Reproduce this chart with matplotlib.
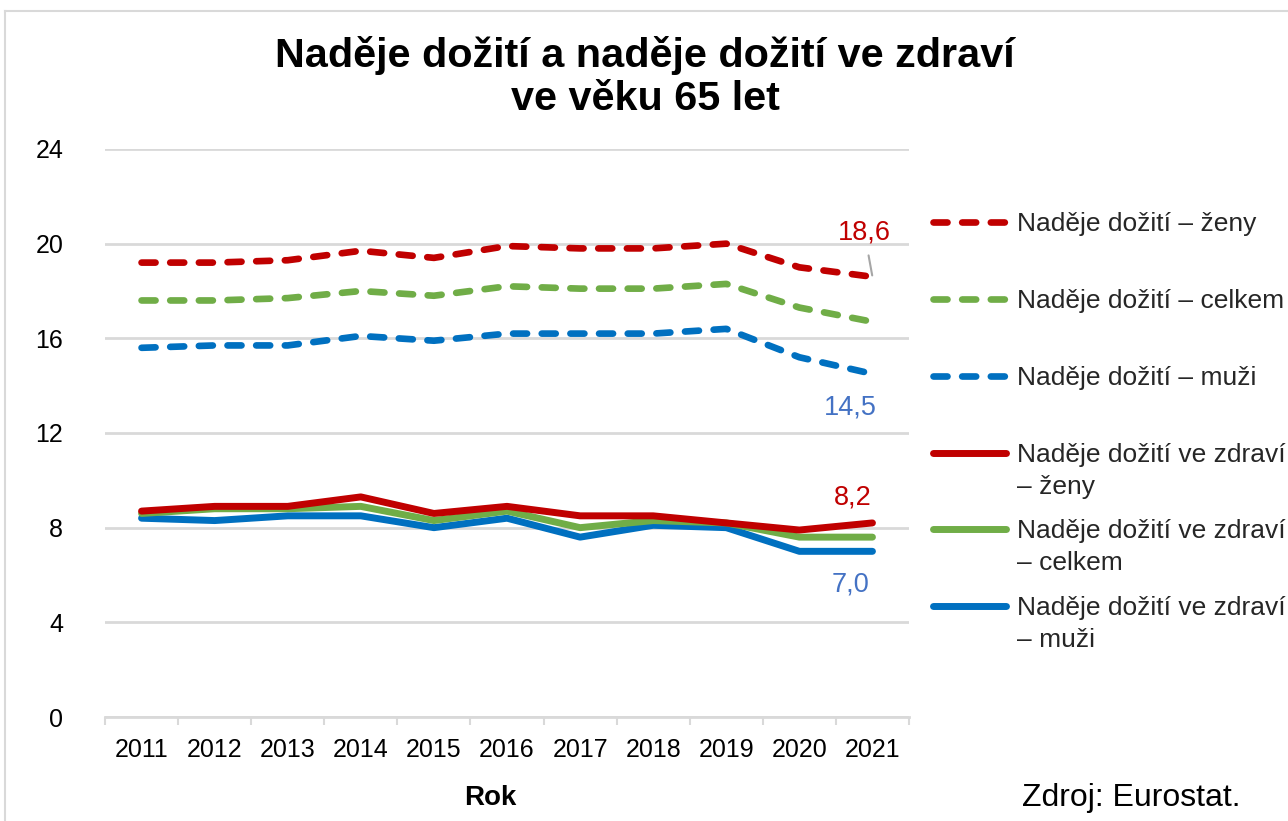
"""Life expectancy and healthy life expectancy at 65 (CZ)"""

import matplotlib

matplotlib.use("Agg")
import matplotlib.pyplot as plt
from matplotlib.lines import Line2D
from matplotlib.ticker import FixedLocator, MultipleLocator

plt.rcParams["font.family"] = ["Liberation Sans", "DejaVu Sans"]

W, H = 1288, 821

years = [2011, 2012, 2013, 2014, 2015, 2016, 2017, 2018, 2019, 2020, 2021]
le_women = [19.2, 19.2, 19.3, 19.7, 19.4, 19.9, 19.8, 19.8, 20.0, 19.0, 18.6]
le_total = [17.6, 17.6, 17.7, 18.0, 17.8, 18.2, 18.1, 18.1, 18.3, 17.3, 16.7]
le_men = [15.6, 15.7, 15.7, 16.1, 15.9, 16.2, 16.2, 16.2, 16.4, 15.2, 14.5]
hle_women = [8.7, 8.9, 8.9, 9.3, 8.6, 8.9, 8.5, 8.5, 8.2, 7.9, 8.2]
hle_total = [8.6, 8.8, 8.8, 8.9, 8.3, 8.7, 8.0, 8.3, 8.2, 7.6, 7.6]
hle_men = [8.4, 8.3, 8.5, 8.5, 8.0, 8.4, 7.6, 8.1, 8.0, 7.0, 7.0]

labels = [
    "Naděje dožití – ženy",
    "Naděje dožití – celkem",
    "Naděje dožití – muži",
    "Naděje dožití ve zdraví\n– ženy",
    "Naděje dožití ve zdraví\n– celkem",
    "Naděje dožití ve zdraví\n– muži",
]

RED, GREEN, BLUE = "#C00000", "#70AD47", "#0070C0"
LABEL_BLUE = "#4472C4"
GRID = "#D9D9D9"


def fig_xy(x, y):
    return x / W, 1 - y / H


fig = plt.figure(figsize=(W / 100, H / 100), dpi=100)
ax = fig.add_axes([105 / W, 1 - 717 / H, 804 / W, 568 / H])

x = list(range(len(years)))
series = [
    (le_women, RED, "dash"),
    (le_total, GREEN, "dash"),
    (le_men, BLUE, "dash"),
    (hle_women, RED, "solid"),
    (hle_total, GREEN, "solid"),
    (hle_men, BLUE, "solid"),
]

dash_kw = dict(linewidth=4.8, linestyle=(0, (2.1, 2.2)), dash_capstyle="round")
solid_kw = dict(linewidth=5.0, solid_capstyle="round", solid_joinstyle="round")

for vals, color, style in reversed(series):
    kw = dash_kw if style == "dash" else solid_kw
    ax.plot(x, vals, color=color, zorder=3, **kw)

ax.set_xlim(-0.5, len(years) - 0.5)
ax.set_ylim(0, 24)
ax.yaxis.set_major_locator(MultipleLocator(4))
ax.grid(axis="y", color=GRID, linewidth=2)
ax.set_axisbelow(True)
for side in ["top", "right", "left"]:
    ax.spines[side].set_visible(False)
ax.spines["bottom"].set_color(GRID)
ax.spines["bottom"].set_linewidth(2)

ax.set_xticks(x)
ax.set_xticklabels([str(y) for y in years])
ax.xaxis.set_minor_locator(FixedLocator([i - 0.5 for i in range(len(years) + 1)]))
ax.tick_params(axis="x", which="major", length=0, pad=15, labelsize=18)
ax.tick_params(axis="x", which="minor", length=6, width=1.5, color=GRID)
ax.tick_params(axis="y", length=0, pad=30, labelsize=18)

ax.set_xlabel("Rok", fontsize=20, fontweight="bold")
ax.xaxis.set_label_coords((490 - 105) / 804, (717 - 798) / 568)
ax.xaxis.label.set_va("center")

# value labels at the last year
last = len(years) - 1
ax.annotate(
    "18,6", (last, le_women[-1]), xytext=(-8, 44), textcoords="offset pixels",
    ha="center", va="center", fontsize=19.5, color=RED,
    arrowprops=dict(arrowstyle="-", color="#A6A6A6", lw=1.5, shrinkA=5, shrinkB=1),
)
ax.annotate(
    "14,5", (last, le_men[-1]), xytext=(-22, -34), textcoords="offset pixels",
    ha="center", va="center", fontsize=19.5, color=LABEL_BLUE,
)
ax.annotate(
    "8,2", (last, hle_women[-1]), xytext=(-20, 25), textcoords="offset pixels",
    ha="center", va="center", fontsize=19.5, color=RED,
)
ax.annotate(
    "7,0", (last, hle_men[-1]), xytext=(-22, -33), textcoords="offset pixels",
    ha="center", va="center", fontsize=19.5, color=LABEL_BLUE,
)

# legend drawn by hand so the handle sits on the first line of the label
handle_y = [222, 299, 376, 453, 529, 606]
line_gap = 32
for (vals, color, style), label, hy in zip(series, labels, handle_y):
    kw = dash_kw if style == "dash" else solid_kw
    (x0, y0), (x1, _) = fig_xy(933, hy), fig_xy(1006, hy)
    fig.add_artist(Line2D([x0, x1], [y0, y0], color=color, transform=fig.transFigure, **kw))
    for i, part in enumerate(label.split("\n")):
        tx, ty = fig_xy(1017, hy + 9 + i * line_gap)
        fig.text(tx, ty, part, ha="left", va="baseline", fontsize=19, color="#262626")

tx, ty = fig_xy(645, 36)
fig.text(
    tx, ty, "Naděje dožití a naděje dožití ve zdraví\nve věku 65 let",
    ha="center", va="top", fontsize=29.8, fontweight="bold", linespacing=1.17,
)
tx, ty = fig_xy(1131, 798)
fig.text(tx, ty, "Zdroj: Eurostat.", ha="center", va="center", fontsize=23)

# thin frame around the chart area
fx, fy = fig_xy(5, 11)
fig.add_artist(Line2D([fx, fx], [0, fy], color=GRID, lw=1.5, transform=fig.transFigure))
fig.add_artist(Line2D([fx, 1], [fy, fy], color=GRID, lw=1.5, transform=fig.transFigure))

fig.savefig("out.png", dpi=100)
